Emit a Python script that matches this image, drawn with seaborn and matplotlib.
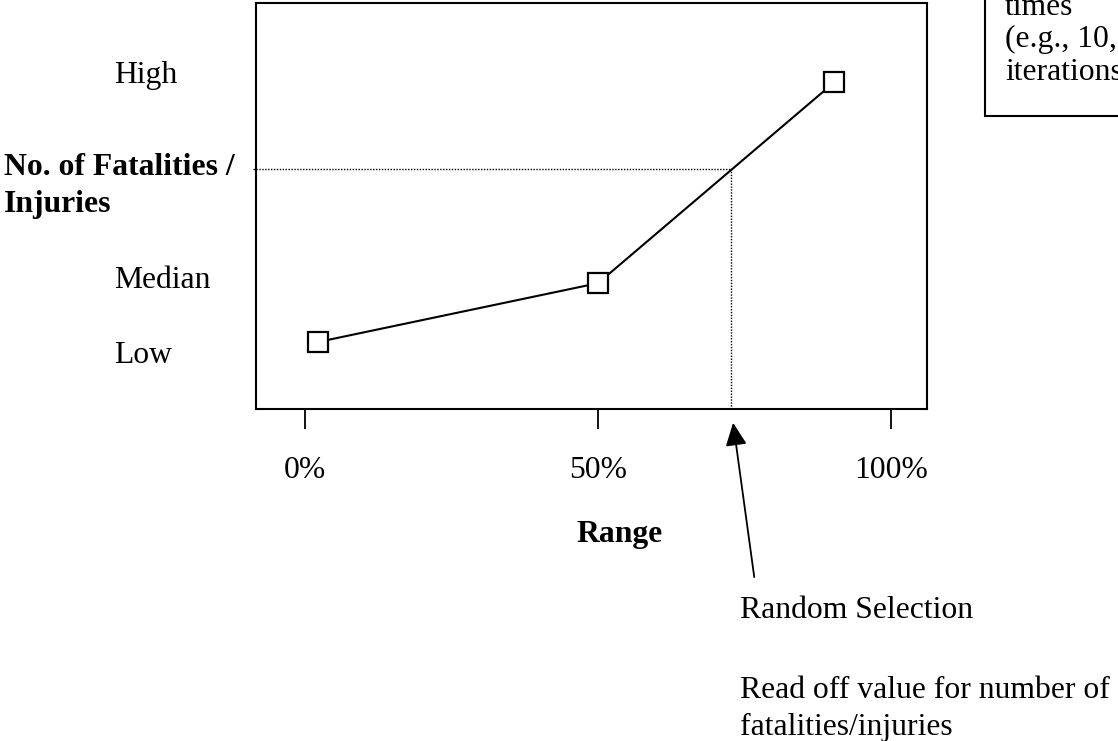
import matplotlib
matplotlib.use("Agg")
import matplotlib.pyplot as plt
import matplotlib.transforms as mtransforms
from matplotlib.patches import Rectangle
import seaborn as sns
import pandas as pd

# ---- data ----
range_pct = [2.2, 50.0, 90.3]          # x position of each point (% of range)
outcome_level = [16.5, 31.0, 80.5]     # relative no. of fatalities / injuries
point_names = ["Low", "Median", "High"]
tick_pct = [0, 50, 100]
tick_labels = ["0%", "50%", "100%"]
level_labels = ["High", "Median", "Low"]
selection_pct = 72.7                   # random selection on the range axis
selection_value = 59.2                 # value
box_lines = ["times", "(e.g., 10,", "iterations"]
note_lines = ["Random Selection", "Read off value for number of", "fatalities/injuries"]
ylabel_lines = ["No. of Fatalities /", "Injuries"]
xlabel_text = "Range"

df = pd.DataFrame({"range": range_pct, "outcome": outcome_level, "name": point_names})

sns.set_theme(style="white")
plt.rcParams["font.family"] = ["Liberation Serif", "DejaVu Serif"]
FS = 22.8

W, H = 1118, 741
fig = plt.figure(figsize=(W / 100, H / 100), dpi=100)
fig.patch.set_facecolor("white")


def fx(px):
    return px / W


def fy(py):
    return 1 - py / H


ax = fig.add_axes([fx(256), fy(409), (927 - 256) / W, (409 - 3) / H])
ax.set_facecolor("white")

sns.lineplot(data=df, x="range", y="outcome", ax=ax, color="black", lw=1.5,
             marker="s", markersize=14.5, markerfacecolor="white",
             markeredgecolor="black", markeredgewidth=1.6, sort=True)

ax.set_xlim(-8.36, 106.1)
ax.set_ylim(0, 100)
for s in ax.spines.values():
    s.set_visible(True)
    s.set_color("black")
    s.set_linewidth(1.5)

ax.set_xticks(tick_pct)
ax.set_xticklabels([""] * len(tick_pct))
ax.tick_params(axis="x", direction="out", length=14.5, width=1.3, color="black",
               bottom=True, pad=0)
ax.set_yticks([])
ax.set_xlabel("")
ax.set_ylabel("")

# dotted read-off lines
x0 = ax.get_xlim()[0]
ax.plot([x0 - 0.5, selection_pct], [selection_value, selection_value],
        color="black", lw=1.0, ls=(0, (1, 1.1)), clip_on=False, zorder=1)
ax.plot([selection_pct, selection_pct], [0, selection_value],
        color="black", lw=1.0, ls=(0, (1, 1.1)), clip_on=False, zorder=1)

# arrow from the note up to the selection point
ax.annotate("", xy=(selection_pct, 0), xycoords="data",
            xytext=(16.6, -121), textcoords="offset points",
            arrowprops=dict(arrowstyle="-|>,head_length=14,head_width=6.5",
                            mutation_scale=1, color="black", lw=1.3,
                            shrinkA=0, shrinkB=10))

# tick labels
blend = mtransforms.blended_transform_factory(ax.transData, fig.transFigure)
for t, lab in zip(tick_pct, tick_labels):
    ax.text(t, fy(478), lab, transform=blend, ha="center", va="baseline",
            fontsize=FS, color="black")

# x label
fig.text(fx(620), fy(542), xlabel_text, ha="center", va="baseline",
         fontsize=FS, fontweight="bold", color="black")

# level labels on the left
for lab, base in zip(level_labels, [83, 288, 363]):
    fig.text(fx(114), fy(base), lab, ha="left", va="baseline", fontsize=FS,
             color="black")

# y-axis title
for line, base in zip(ylabel_lines, [175, 212]):
    fig.text(fx(4), fy(base), line, ha="left", va="baseline", fontsize=FS,
             fontweight="bold", color="black")

# notes below
for line, base in zip(note_lines, [618, 698, 735]):
    fig.text(fx(740), fy(base), line, ha="left", va="baseline", fontsize=FS,
             color="black")

# text box at top right, cut by the figure edge as in the reference
fig.add_artist(Rectangle((fx(985), fy(116)), (1140 - 985) / W, 130 / H,
                         transform=fig.transFigure, facecolor="white",
                         edgecolor="black", lw=1.5))
for line, base in zip(box_lines, [15, 47, 80]):
    fig.text(fx(1005), fy(base), line, ha="left", va="baseline", fontsize=FS,
             color="black")

fig.savefig("out.png", dpi=100, facecolor="white")
